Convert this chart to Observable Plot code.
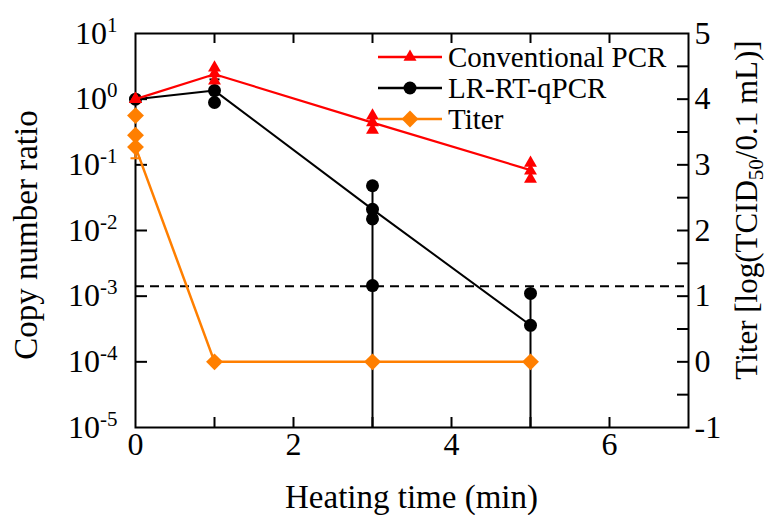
<!DOCTYPE html>
<html><head><meta charset="utf-8">
<script src="https://cdn.jsdelivr.net/npm/d3@7"></script>
<script src="https://cdn.jsdelivr.net/npm/@observablehq/plot@0.6"></script>
<style>
body{margin:0;background:#fff;}
#chart{position:relative;width:767px;height:515px;}
</style></head><body><div id="chart"></div>
<script>
// ---- data ----
const times = [0, 1, 3, 5];
const pcrMean = [1.0, 2.4, 0.44, 0.083];
const pcrRepTime = [0, 0, 0, 1, 1, 1, 3, 3, 3, 5, 5, 5];
const pcrRepValue = [1.0, 1.0, 1.0, 3.0, 2.45, 1.9, 0.56, 0.44, 0.34, 0.107, 0.081, 0.061];

const lrMean = [1.0, 1.35, 0.021, 0.00036];
const lrRepTime = [0, 1, 1, 3, 3, 3, 3, 5, 5];
const lrRepValue = [1.0, 1.35, 0.89, 0.048, 0.021, 0.015, 0.00145, 0.0011, 0.00036];
const lrErrTime = [1, 3, 5];
const lrErrLow = [0.89, 1e-6, 1e-6];
const lrErrHigh = [2.0, 0.048, 0.0011];

const titerMean = [3.27, 0, 0, 0];
const titerRepTime = [0, 0, 0, 1, 3, 5];
const titerRepValue = [3.75, 3.45, 3.27, 0, 0, 0];
const titerErrTime = [0];
const titerErrLow = [3.1];
const titerErrHigh = [3.45];

const detectionLimitTiter = 1.15;

const xLabelTicks = [0, 2, 4, 6];
const xMinorTicks = [1, 2, 3, 4, 5, 6];
const yLeftExponents = [-5, -4, -3, -2, -1, 0, 1];
const yRightTiters = [-1, 0, 1, 2, 3, 4, 5];
const yRightMinor = [-0.5, 0, 0.5, 1, 1.5, 2, 2.5, 3, 3.5, 4, 4.5];

const legendLabels = ["Conventional PCR", "LR-RT-qPCR", "Titer"];
const colors = {pcr: "#ff0000", lr: "#000000", titer: "#ff7f00"};

// ---- layout ----
const W = 767, H = 515, mL = 135, mR = 79, mT = 33, mB = 88;
const plotW = W - mL - mR, plotH = H - mT - mB;
const font = '"Liberation Serif","Times New Roman",Times,serif';
// titer axis: titer t <-> copy ratio 10^(t-4)
const t2y = t => Math.pow(10, t - 4);

const pcrLine = times.map((t, i) => ({t, v: pcrMean[i]}));
const pcrReps = pcrRepTime.map((t, i) => ({t, v: pcrRepValue[i]}));
const lrLine = times.map((t, i) => ({t, v: lrMean[i]}));
const lrReps = lrRepTime.map((t, i) => ({t, v: lrRepValue[i]}));
const lrErr = lrErrTime.map((t, i) => ({t, lo: lrErrLow[i], hi: lrErrHigh[i]}));
const titerLine = times.map((t, i) => ({t, v: t2y(titerMean[i])}));
const titerReps = titerRepTime.map((t, i) => ({t, v: t2y(titerRepValue[i])}));
const titerErr = titerErrTime.map((t, i) => ({t, lo: t2y(titerErrLow[i]), hi: t2y(titerErrHigh[i])}));

const capSymbol = {draw(ctx, size) { const w = Math.sqrt(size / Math.PI); ctx.moveTo(-w, 0); ctx.lineTo(w, 0); }};

const plot = Plot.plot({
  width: W, height: H,
  marginLeft: mL, marginRight: mR, marginTop: mT, marginBottom: mB,
  style: {fontFamily: font, fontSize: "32px", background: "white", color: "black"},
  x: {domain: [0, 7]},
  y: {type: "log", domain: [1e-5, 10]},
  marks: [
    Plot.ruleY([t2y(detectionLimitTiter)], {stroke: "black", strokeWidth: 2, strokeDasharray: "9,6"}),
    // inward ticks
    Plot.tickY(yLeftExponents.slice(1, -1).map(e => Math.pow(10, e)), {y: d => d, insetRight: plotW - 12, stroke: "black", strokeWidth: 2}),
    Plot.tickY(yRightMinor.map(t2y), {y: d => d, insetLeft: plotW - 11, stroke: "black", strokeWidth: 2}),
    Plot.tickX(xMinorTicks, {x: d => d, insetTop: plotH - 10, stroke: "black", strokeWidth: 2}),
    Plot.tickX(xMinorTicks, {x: d => d, insetBottom: plotH - 10, stroke: "black", strokeWidth: 2}),
    Plot.frame({stroke: "black", strokeWidth: 2}),
    // axes labels
    Plot.axisY(yLeftExponents.map(e => Math.pow(10, e)), {anchor: "left", tickSize: 0, tickPadding: 18, label: null,
      tickFormat: d => "10^" + Math.round(Math.log10(d))}),
    Plot.axisY(yRightTiters.map(t2y), {anchor: "right", tickSize: 0, tickPadding: 6, label: null,
      tickFormat: d => String(Math.round(Math.log10(d) + 4))}),
    Plot.axisX(xLabelTicks, {anchor: "bottom", tickSize: 0, tickPadding: 5, label: null}),
    // error bars
    Plot.ruleX(lrErr, {x: "t", y1: "lo", y2: "hi", stroke: colors.lr, strokeWidth: 2, clip: true}),
    Plot.dot(lrErr, {x: "t", y: "hi", symbol: capSymbol, r: 5, stroke: colors.lr, strokeWidth: 2, fill: "none"}),
    Plot.dot(lrErr, {x: "t", y: "lo", symbol: capSymbol, r: 5, stroke: colors.lr, strokeWidth: 2, fill: "none", clip: true}),
    Plot.ruleX(titerErr, {x: "t", y1: "lo", y2: "hi", stroke: colors.titer, strokeWidth: 2}),
    Plot.dot(titerErr, {x: "t", y: "lo", symbol: capSymbol, r: 5, stroke: colors.titer, strokeWidth: 2, fill: "none"}),
    // LR-RT-qPCR
    Plot.line(lrLine, {x: "t", y: "v", stroke: colors.lr, strokeWidth: 2}),
    Plot.dot(lrReps, {x: "t", y: "v", r: 6.5, fill: colors.lr, symbol: "circle"}),
    // Titer
    Plot.line(titerLine, {x: "t", y: "v", stroke: colors.titer, strokeWidth: 2.5}),
    Plot.dot(titerReps, {x: "t", y: "v", r: 7.6, fill: colors.titer, symbol: "diamond2"}),
    // Conventional PCR
    Plot.line(pcrLine, {x: "t", y: "v", stroke: colors.pcr, strokeWidth: 2.2}),
    Plot.dot(pcrReps, {x: "t", y: "v", r: 4.8, fill: colors.pcr, symbol: "triangle"})
  ]
});

document.getElementById("chart").appendChild(plot);
const svg = d3.select(plot);

// superscript exponents on left tick labels
svg.selectAll("text").each(function() {
  const el = d3.select(this);
  const txt = el.text();
  if (txt.includes("^")) {
    const [base, exp] = txt.split("^");
    el.text(null);
    el.append("tspan").text(base);
    el.append("tspan").attr("dy", -12).attr("font-size", 21).text(exp);
  }
});

// axis titles
svg.append("text")
  .attr("transform", `translate(${mL + plotW / 2},508)`)
  .attr("text-anchor", "middle").attr("font-size", 33).attr("font-family", font).attr("fill", "black")
  .text("Heating time (min)");
svg.append("text")
  .attr("transform", "translate(37,235) rotate(-90)")
  .attr("text-anchor", "middle").attr("font-size", 33).attr("font-family", font).attr("fill", "black")
  .text("Copy number ratio");
const rt = svg.append("text")
  .attr("transform", "translate(757,210) rotate(-90)")
  .attr("text-anchor", "middle").attr("font-size", 31).attr("font-family", font).attr("fill", "black");
rt.append("tspan").text("Titer [log(TCID");
rt.append("tspan").attr("font-size", 21).attr("dy", 6).text("50");
rt.append("tspan").attr("dy", -6).text("/0.1 mL)]");

// legend
const legendItems = [
  {label: legendLabels[0], color: colors.pcr, sym: d3.symbolTriangle, size: 73},
  {label: legendLabels[1], color: colors.lr, sym: d3.symbolCircle, size: Math.PI * 6.5 * 6.5},
  {label: legendLabels[2], color: colors.titer, sym: d3.symbolDiamond2, size: Math.PI * 7.6 * 7.6}
];
const lg = svg.append("g");
legendItems.forEach((it, i) => {
  const cy = 57 + i * 31;
  const g = lg.append("g").attr("transform", `translate(0,${cy})`);
  g.append("line").attr("x1", 378).attr("x2", 442).attr("y1", 0).attr("y2", 0)
    .attr("stroke", it.color).attr("stroke-width", 2.5);
  g.append("path").attr("transform", "translate(410,0)")
    .attr("d", d3.symbol().type(it.sym).size(it.size)()).attr("fill", it.color);
  g.append("text").attr("x", 448).attr("y", 0).attr("dy", "0.35em").attr("text-anchor", "start")
    .attr("font-size", 29).attr("font-family", font).attr("fill", "black").text(it.label);
});
</script>
</body></html>
